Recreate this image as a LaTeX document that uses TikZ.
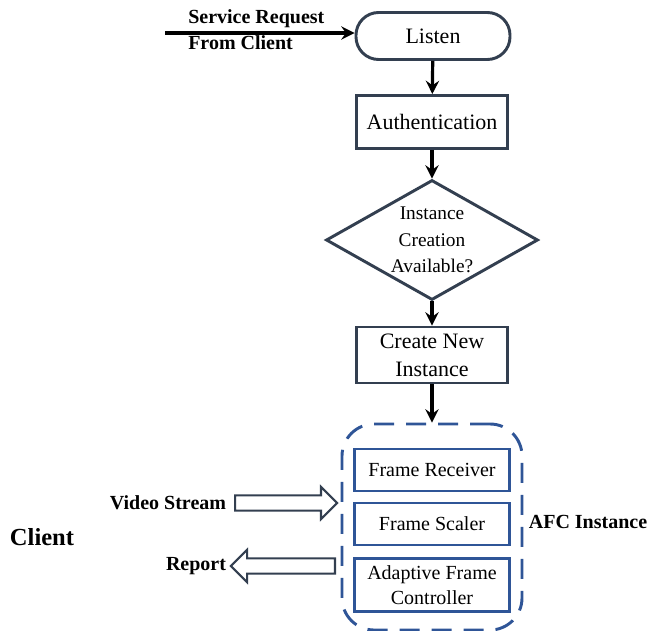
\documentclass[tikz,border=0pt]{standalone}
\usepackage{fontspec}
\setmainfont{Liberation Serif}
\usetikzlibrary{shapes,arrows.meta,calc}
\definecolor{slate}{HTML}{333F50}
\definecolor{afcblue}{HTML}{2F5597}
\tikzstyle{line} = [draw, line width=2.4pt, -{Stealth[length=10pt,width=10pt,inset=3.5pt]}]
\tikzstyle{block} = [draw=slate, line width=2.2pt, rectangle, text centered, align=center, inner sep=0pt, minimum width=113.25pt, font=\fontsize{16.5}{21}\selectfont]
\tikzstyle{cloud} = [block, rounded corners=17pt, minimum width=115.5pt, minimum height=35.25pt]
\tikzstyle{decision} = [draw=slate, line width=2.2pt, diamond, aspect=1.77, inner sep=0pt, align=center, minimum width=159pt, minimum height=90pt, font=\fontsize{14.5}{20}\selectfont]
\tikzstyle{part} = [draw=afcblue, line width=2.2pt, rectangle, align=center, inner sep=0pt, minimum width=116.25pt, minimum height=31.5pt, font=\fontsize{15}{18.75}\selectfont]
\tikzstyle{label} = [font=\bfseries\fontsize{15}{19.5}\selectfont, inner sep=0pt]
\tikzstyle{hollow} = [draw=slate, fill=white, line width=1.6pt, single arrow, single arrow head extend=6.4pt, single arrow head indent=0pt, inner xsep=0pt, inner ysep=4.9pt]

\begin{document}
\begin{tikzpicture}[x=0.75pt, y=-0.75pt]
        \useasboundingbox (0,0) rectangle (649,631);
        \node[cloud] (listen) at (433,36) {Listen};
        \node[block, minimum height=39.75pt] (auth) at (432,122) {Authentication};
        \node[decision] (avail) at (432,240) {Instance\\Creation\\Available?};
        \node[block, minimum height=42pt] (create) at (432,355) {Create New\\Instance};
        \node[draw=afcblue, line width=2.2pt, dash pattern=on 15pt off 9pt, rounded corners=24pt, minimum width=135pt, minimum height=154.5pt, inner sep=0pt] (afc) at (432,527) {};
        \node[part] (receiver) at (432,470) {Frame Receiver};
        \node[part] (scaler) at (432,524) {Frame Scaler};
        \node[part, minimum height=39.75pt] (controller) at (432,585) {Adaptive Frame\\Controller};
        \node[label, anchor=west, align=left] (request) at (188,30) {Service Request\\From Client};
        \node[label] (video) at (168,503) {Video Stream};
        \node[label] (report) at (196,566) {Report};
        \node[label, font=\bfseries\fontsize{18.4}{22}\selectfont] (client) at (42,537) {Client};
        \node[label] (afclabel) at (588,522) {AFC Instance};
        \coordinate (reqstart) at (165,33);
        \node[hollow, minimum height=76.5pt, anchor=tail] (streamarrow) at (234,503) {};
        \node[hollow, minimum height=78pt, shape border rotate=180, anchor=tail] (reportarrow) at (336,566) {};
        \path[line] (reqstart) -- (reqstart -| listen.west);
        \path[line] (listen) -- (auth);
        \path[line] (auth) -- (avail);
        \path[line] (avail) -- (create);
        \path[line] (create) -- (afc);
    \end{tikzpicture}
\end{document}
